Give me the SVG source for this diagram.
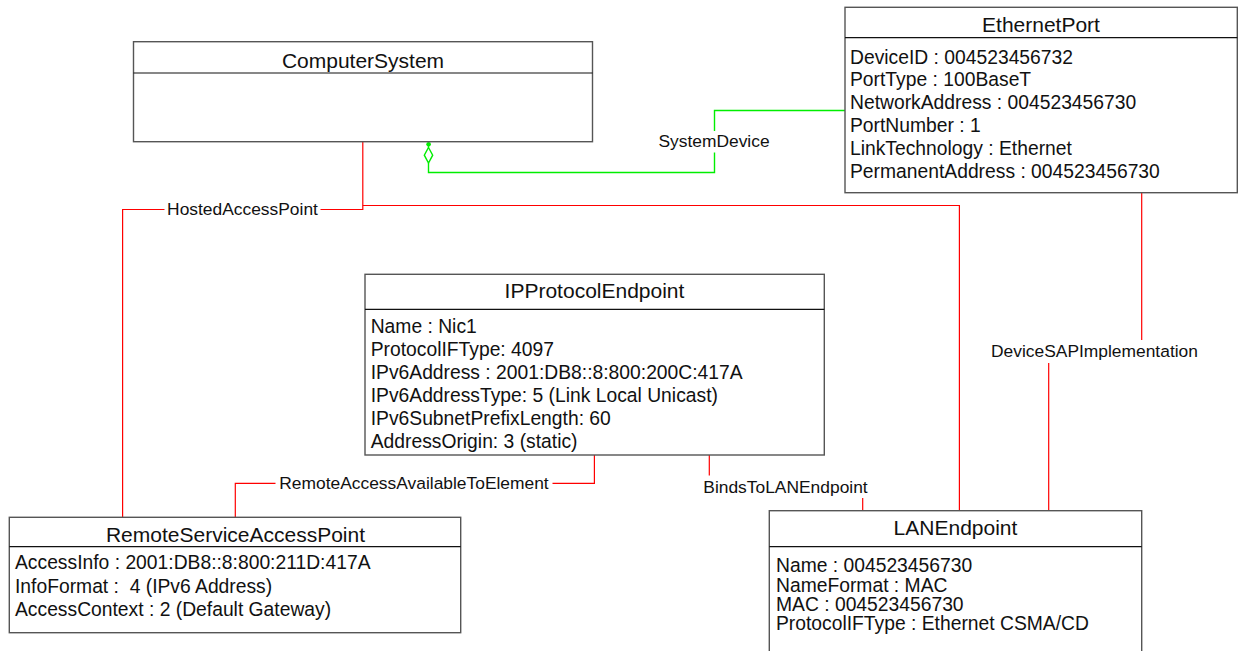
<svg xmlns="http://www.w3.org/2000/svg" width="1238" height="651" viewBox="0 0 1238 651">
<style>
.box{fill:#fff;stroke:#555;stroke-width:1.4}
.hdr{stroke:#111;stroke-width:1.2}
.title{font-family:"Liberation Sans",Arial,sans-serif;font-size:21px;fill:#111;text-anchor:middle}
.attr{font-family:"Liberation Sans",Arial,sans-serif;font-size:19.3px;fill:#111}
.lbl{font-family:"Liberation Sans",Arial,sans-serif;font-size:17.4px;fill:#111;text-anchor:middle}
.red{fill:none;stroke:#f00;stroke-width:1.2}
.grn{fill:none;stroke:#0e0;stroke-width:1.4}
.bg{fill:#fff}
</style>
<rect width="1238" height="651" fill="#fff"/>
<g id="connectors">
  <g id="c-systemdevice">
    <path class="grn" d="M845,110.5 H714.5 V172.5 H428.5 V163"/>
    <polygon points="428.5,147.5 432.7,155.2 428.5,163 424.3,155.2" fill="#fff" stroke="#0e0" stroke-width="1.4"/>
    <line x1="428.5" y1="144.3" x2="428.5" y2="147.5" stroke="#0e0" stroke-width="1.4"/>
    <circle cx="428.6" cy="144.3" r="2.3" fill="#0e0"/>
    <rect class="bg" x="656" y="131" width="117" height="21.5"/>
    <text class="lbl" x="714" y="147">SystemDevice</text>
  </g>
  <g id="c-hosted">
    <path class="red" d="M362.8,142 V209.5 H122.6 V517"/>
    <rect class="bg" x="164.5" y="200" width="156" height="19"/>
    <text class="lbl" x="242.5" y="215">HostedAccessPoint</text>
  </g>
  <g id="c-hosted2">
    <path class="red" d="M362.8,205.5 H959.4 V511"/>
  </g>
  <g id="c-remote">
    <path class="red" d="M594.4,455 V483.3 H235.3 V517"/>
    <rect class="bg" x="275.5" y="474" width="277" height="19"/>
    <text class="lbl" x="414" y="489">RemoteAccessAvailableToElement</text>
  </g>
  <g id="c-binds">
    <path class="red" d="M709.3,455 V487 H862.7 V511"/>
    <rect class="bg" x="699.5" y="475.5" width="172" height="22.5"/>
    <text class="lbl" x="785.5" y="493">BindsToLANEndpoint</text>
  </g>
  <g id="c-devicesap">
    <path class="red" d="M1141.7,193 V351 H1048.7 V511"/>
    <rect class="bg" x="988" y="340" width="213" height="23"/>
    <text class="lbl" x="1094.5" y="356.7">DeviceSAPImplementation</text>
  </g>
</g>
<g id="ComputerSystem">
  <rect class="box" x="133.5" y="41.7" width="459" height="100"/>
  <line class="hdr" x1="133.5" y1="73" x2="592.5" y2="73"/>
  <text class="title" x="363" y="68">ComputerSystem</text>
</g>
<g id="EthernetPort">
  <rect class="box" x="845" y="7.3" width="392.3" height="185.4"/>
  <line class="hdr" x1="845" y1="37.7" x2="1237.3" y2="37.7"/>
  <text class="title" x="1041" y="31.7">EthernetPort</text>
  <text class="attr" x="850" y="63.5">DeviceID : 004523456732</text>
  <text class="attr" x="850" y="86.4">PortType : 100BaseT</text>
  <text class="attr" x="850" y="109.3">NetworkAddress : 004523456730</text>
  <text class="attr" x="850" y="132.2">PortNumber : 1</text>
  <text class="attr" x="850" y="155.1">LinkTechnology : Ethernet</text>
  <text class="attr" x="850" y="178">PermanentAddress : 004523456730</text>
</g>
<g id="IPProtocolEndpoint">
  <rect class="box" x="365" y="274.3" width="459.3" height="180.7"/>
  <line class="hdr" x1="365" y1="309.3" x2="824.3" y2="309.3"/>
  <text class="title" x="594.5" y="298.3">IPProtocolEndpoint</text>
  <text class="attr" x="370.7" y="333">Name : Nic1</text>
  <text class="attr" x="370.7" y="356">ProtocolIFType: 4097</text>
  <text class="attr" x="370.7" y="379">IPv6Address : 2001:DB8::8:800:200C:417A</text>
  <text class="attr" x="370.7" y="402">IPv6AddressType: 5 (Link Local Unicast)</text>
  <text class="attr" x="370.7" y="425">IPv6SubnetPrefixLength: 60</text>
  <text class="attr" x="370.7" y="448">AddressOrigin: 3 (static)</text>
</g>
<g id="RemoteServiceAccessPoint">
  <rect class="box" x="9.3" y="517.3" width="451.4" height="115.4"/>
  <line class="hdr" x1="9.3" y1="546.7" x2="460.7" y2="546.7"/>
  <text class="title" x="235.5" y="541.7">RemoteServiceAccessPoint</text>
  <text class="attr" x="15" y="569.3">AccessInfo : 2001:DB8::8:800:211D:417A</text>
  <text class="attr" x="15" y="592.7" xml:space="preserve">InfoFormat :  4 (IPv6 Address)</text>
  <text class="attr" x="15" y="616">AccessContext : 2 (Default Gateway)</text>
</g>
<g id="LANEndpoint">
  <rect class="box" x="769.3" y="510.7" width="372.4" height="160"/>
  <line class="hdr" x1="769.3" y1="546.7" x2="1141.7" y2="546.7"/>
  <text class="title" x="955.5" y="535">LANEndpoint</text>
  <text class="attr" x="776" y="572.3">Name : 004523456730</text>
  <text class="attr" x="776" y="591.5">NameFormat : MAC</text>
  <text class="attr" x="776" y="610.7">MAC : 004523456730</text>
  <text class="attr" x="776" y="630">ProtocolIFType : Ethernet CSMA/CD</text>
</g>
</svg>
